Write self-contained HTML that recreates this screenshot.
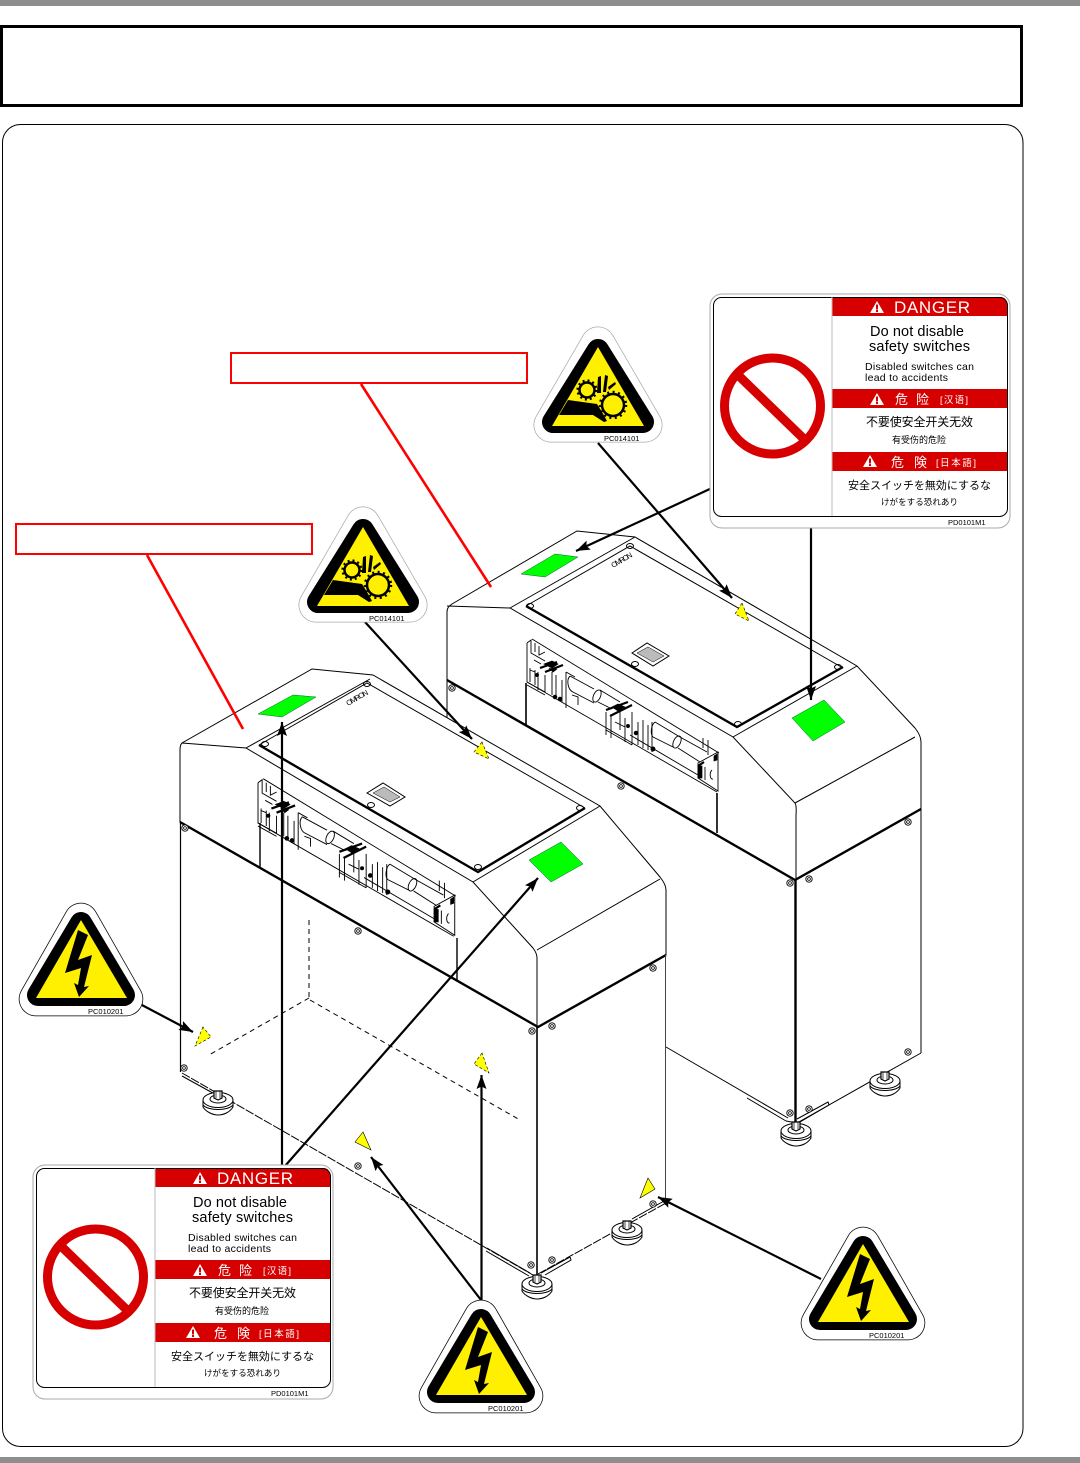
<!DOCTYPE html>
<html><head><meta charset="utf-8"><style>
html,body{margin:0;padding:0;background:#fff}
svg{display:block}
.en{font-family:"Liberation Sans",sans-serif}
.sc{font-family:"Liberation Sans","Noto Sans CJK SC",sans-serif}
.jp{font-family:"Liberation Sans","Noto Sans CJK JP",sans-serif}
.m{fill:none;stroke:#000;stroke-width:1}
.t{fill:none;stroke:#000;stroke-width:2.4}
.d{fill:none;stroke:#000;stroke-width:1;stroke-dasharray:5 4}
.p{fill:none;stroke:#000;stroke-width:1;stroke-dasharray:9 1.500}
.a{fill:none;stroke:#000;stroke-width:2.200;marker-end:url(#ah)}
.y{fill:#ff0;stroke:#000;stroke-width:.6}
.g{fill:#0f0;stroke:#063;stroke-width:.5}
</style></head><body>
<svg width="1080" height="1463" viewBox="0 0 1080 1463" xmlns="http://www.w3.org/2000/svg">
<defs>
<marker id="ah" markerUnits="userSpaceOnUse" markerWidth="16" markerHeight="10" refX="14" refY="5" orient="auto"><path d="M0 0L14 5L0 10L2.500 5Z" fill="#000"/></marker>
<g id="screw"><circle r="3.200" fill="#fff" stroke="#000" stroke-width=".9"/><circle r="1.400" fill="none" stroke="#000" stroke-width=".8"/></g>
<g id="foot"><path d="M-15 -3V4C-12 9 -5 12 0 12C6 12 12 9 15 4V-3" fill="#fff" stroke="#000"/><ellipse cy="-3" rx="15" ry="7.500" fill="#fff" stroke="#000"/><ellipse cy="-4" rx="8" ry="4" fill="#fff" stroke="#000"/><path d="M-4 -12H4V-5L0 -3L-4 -5Z" fill="#fff" stroke="#000" stroke-width="1.200"/><path d="M-2 -12V-5M2 -12V-5" stroke="#000" stroke-width=".7"/><path d="M-15 2C-10 8 10 8 15 2" fill="none" stroke="#000"/></g>
<g id="mech" fill="none" stroke="#000" stroke-width=".9">
<path d="M527 643V682L717 792M532 639L719 753M527 643L531 640V653L545 661M535 643V652M539 646V655L545 652M530 670L535 672M534 660L541 664"/>
<path d="M527 682L545 692M527 685L545 695M538 672V690M545 675V692M552 672V695M556 675V698M562 680V702M566 672V708M530 668V682M535 670V685"/>
<path d="M570 676C566 680 568 690 573 692M570 676L594 689M573 692L594 703M600 690L620 702M598 702L612 709M566 672L575 677M572 695L578 697V705"/>
<ellipse cx="597" cy="696" rx="3.500" ry="6.500" transform="rotate(25 597 696)"/>
<path d="M606 712V735M611 715V738M620 712V730M625 718V742M632 712V745M638 722V745M643 720V748M648 725V750M652 722V752M606 730L632 745M615 722L625 727"/>
<path d="M655 722L680 737M653 737L673 747M655 722C651 725 650 734 653 737M680 737L707 752M678 748L700 762M703 738V748M708 740V755M630 735L698 775"/>
<ellipse cx="677" cy="742" rx="3.500" ry="6.500" transform="rotate(25 677 742)"/>
<path d="M698 763L718 752V791L698 778ZM705 767V780M712 770C709 773 710 780 713 779M700 764V778"/>
<path d="M540 668L557 662M545 672L563 665M606 710L628 702M610 716L632 705M698 766L704 762" stroke-width="2.200"/>
<path d="M544 664L552 668L558 664L552 661ZM549 668L553 672L557 669M612 707L618 711L625 707L618 704ZM698 766H702V778H698ZM714 756L717 754V760L714 761Z" fill="#000" stroke-width=".7"/>
<circle cx="555" cy="697" r="1.800" fill="#000"/><circle cx="560" cy="699" r="1.800" fill="#000"/><circle cx="537" cy="675" r="1.500" fill="#000"/><circle cx="653" cy="749" r="2" fill="#000"/><circle cx="636" cy="733" r="1.800" fill="#000"/><circle cx="628" cy="726" r="1.500" fill="#000"/>
</g>
</defs>
<rect width="1080" height="1463" fill="#fff"/>
<rect x="0" y="0" width="1080" height="6" fill="#8e8e8e"/>
<rect x="0" y="1457" width="1080" height="6" fill="#8e8e8e"/>
<rect x="1.500" y="26.500" width="1020" height="79" fill="#fff" stroke="#000" stroke-width="3"/>
<rect x="2.500" y="124.500" width="1020.500" height="1322" rx="18" fill="#fff" stroke="#000" stroke-width="1"/>

<!-- REAR MACHINE -->
<g>
<path class="m" d="M447 680V612C447 608 449 606 452 604L577 531L635 537L857 666L915 728C919 733 921 737 921 742V809M447 606L510 608L733 737L795 803C797 806 796 812 796 816V880M795 803L915 737M733 737L857 666M510 608L635 537"/>
<path class="m" d="M526 606L630 546L843 668"/>
<path class="t" d="M526 606L737 727L843 667"/>
<path class="t" d="M447 680L795 880L921 809"/>
<path class="m" d="M447 680V720M921 809V1053"/>
<path d="M526 683V726M717 793V833" stroke="#000" stroke-width="1.600" fill="none"/>
<path d="M795.500 880V1122" stroke="#000" stroke-width="2.400" fill="none"/>
<path class="m" d="M666 1047L788 1118M747 1098L786 1121M786 1121L797 1123L921 1053M797 1119L828 1102L829 1105L800 1122"/>
<use href="#mech"/>
<path class="m" d="M632 653L647 643L669 656L653 666Z"/><path d="M637 653L648 647L664 656L653 662Z" fill="#bbb" stroke="#000" stroke-width=".5"/>
<ellipse cx="635" cy="664" rx="3.500" ry="2.500" class="m" fill="#fff"/>
<ellipse cx="530" cy="606" rx="3.500" ry="2.500" class="m"/><ellipse cx="630" cy="546" rx="3.500" ry="2.500" class="m"/><ellipse cx="838" cy="667" rx="3.500" ry="2.500" class="m"/><ellipse cx="738" cy="724" rx="3.500" ry="2.500" class="m"/>
<text class="en" transform="translate(613,568) rotate(-30)" font-size="7.500" textLength="23">OMRON</text>
<polygon class="g" points="521,574 555,554 578,557 545,577"/>
<polygon class="g" points="792,718 824,700 845,722 813,741"/>
<use href="#screw" x="452" y="688"/><use href="#screw" x="621" y="786"/><use href="#screw" x="790" y="883"/><use href="#screw" x="809" y="879"/><use href="#screw" x="908" y="822"/>
<use href="#screw" x="790" y="1113"/><use href="#screw" x="809" y="1109"/><use href="#screw" x="908" y="1052"/>
<use href="#foot" x="885" y="1084"/><use href="#foot" x="796" y="1134"/>
<polygon class="y" points="742,603 735,614 749,621" stroke-dasharray="3 2"/>
</g>

<!-- FRONT MACHINE -->
<g>
<path d="M179 752C179 748 180 745 182 743L312 669L373 675L600 806L660 877C664 882 666 886 666 890V1205L537 1277L182 1073L180 822Z" fill="#fff"/>
<path class="m" d="M180 822V752C180 748 180 745 182 743L312 669L373 675L600 806L660 877C664 882 666 886 666 890V955M182 743L246 748L473 882L533 948C536 952 537 955 537 958V1027M537 950L660 879M473 882L600 806M246 748L370 679"/>
<path class="m" d="M259 745L367 683L585 808"/>
<path class="t" d="M259 745L478 872L585 808"/>
<path class="t" d="M180 822L538 1027L666 955"/>
<path d="M260 823V868M457 938V980" stroke="#000" stroke-width="1.400" fill="none"/>
<use href="#mech" transform="translate(-284.800,120.500) scale(1.030)"/>
<path class="m" d="M367 793L383 783L405 797L390 806Z"/><path d="M373 793L384 787L400 797L390 802Z" fill="#bbb" stroke="#000" stroke-width=".5"/>
<ellipse cx="371" cy="805" rx="3.500" ry="2.500" class="m"/>
<ellipse cx="265" cy="744" rx="3.500" ry="2.500" class="m"/><ellipse cx="367" cy="684" rx="3.500" ry="2.500" class="m"/><ellipse cx="580" cy="808" rx="3.500" ry="2.500" class="m"/><ellipse cx="478" cy="867" rx="3.500" ry="2.500" class="m"/>
<text class="en" transform="translate(348,706) rotate(-30)" font-size="7.500" textLength="24">OMRON</text>
<polygon class="g" points="258,714 293,695 316,697 282,717"/>
<polygon class="g" points="529,860 561,842 583,864 551,882"/>
<path d="M180.500 822V1072" stroke="#000" stroke-width="1.200" fill="none"/>
<path d="M665.500 955V1205" stroke="#444" stroke-width="1" fill="none"/>
<path d="M537 1027V1275" stroke="#000" stroke-width="1.600" fill="none"/>
<path class="d" d="M309 920V998M309 998L209 1055M310 1000L520 1120"/>
<path class="p" d="M182 1073L533 1275M538 1274L666 1203"/>
<path class="m" d="M182 1076L220 1097M487 1248L530 1273M486 1251L529 1276M541 1273L570 1257M545 1275L571 1260L570 1257M632 1219L664 1201"/>
<use href="#screw" x="185" y="828"/><use href="#screw" x="358" y="931"/><use href="#screw" x="532" y="1031"/><use href="#screw" x="552" y="1026"/><use href="#screw" x="653" y="968"/>
<use href="#screw" x="184" y="1068"/><use href="#screw" x="358" y="1166"/><use href="#screw" x="531" y="1265"/><use href="#screw" x="552" y="1260"/><use href="#screw" x="653" y="1204"/>
<use href="#foot" x="218" y="1103"/><use href="#foot" x="537" y="1287"/><use href="#foot" x="627" y="1233"/>
<polygon class="y" points="482,742 474,752 489,759" stroke-dasharray="3 2"/>
<polygon class="y" points="203,1027 195,1046 211,1037" stroke-dasharray="3 2"/>
<polygon class="y" points="482,1053 474,1064 489,1073" stroke-dasharray="3 2"/>
<polygon class="y" points="363,1132 355,1142 371,1150"/>
<polygon class="y" points="648,1178 640,1198 655,1189"/>
</g>

<!-- RED CALLOUTS -->
<rect x="231" y="353" width="296" height="30" fill="#fff" stroke="#f00" stroke-width="2"/>
<rect x="16" y="524" width="296" height="30" fill="#fff" stroke="#f00" stroke-width="2"/>
<path d="M361 384L491 587M147 555L243 729" stroke="#f00" stroke-width="2.600" fill="none"/>

<!-- ARROWS -->
<path class="a" d="M712 488L576 551"/>
<path class="a" d="M598 443L732 598"/>
<path class="a" d="M811 525V700"/>
<path class="a" d="M365 622L472 739"/>
<path class="a" d="M282 1166V722"/>
<path class="a" d="M285 1166L538 878"/>
<path class="a" d="M140 1004L193 1032"/>
<path class="a" d="M481.500 1302V1075"/>
<path class="a" d="M481 1300L371 1157"/>
<path class="a" d="M821 1279L658 1197"/>

<!-- PINCH SIGNS -->
<g>
<polygon points="598,344 551,425 645,425" fill="#aaa" stroke="#aaa" stroke-width="35" stroke-linejoin="round"/>
<polygon points="598,344 551,425 645,425" fill="#fff" stroke="#fff" stroke-width="33.500" stroke-linejoin="round"/>
<polygon points="598,350 553,422 643,422" fill="#000" stroke="#000" stroke-width="22" stroke-linejoin="round"/>
<polygon points="598,347 552,426 644,426" fill="#fff000"/>
<circle cx="587" cy="390" r="7.500" fill="#fff000" stroke="#000" stroke-width="2.500"/><circle cx="587" cy="390" r="9.500" fill="none" stroke="#000" stroke-width="2.200" stroke-dasharray="2 3"/>
<circle cx="613" cy="405" r="11" fill="#fff000" stroke="#000" stroke-width="2.500"/><circle cx="613" cy="405" r="13" fill="none" stroke="#000" stroke-width="2.500" stroke-dasharray="2 3.500"/>
<path d="M559 415L568 400L597 404L602 412L607 421L604 422L593 415Z" fill="#000"/>
<path d="M597 393L598 377L601 376L601 393ZM603 392L605 375L608 376L606 392ZM608 387L615 382L616 384L609 390Z" fill="#000"/>
<text class="en" x="604" y="441" font-size="7.500">PC014101</text>
</g>
<g>
<polygon points="363,524 316,605 410,605" fill="#aaa" stroke="#aaa" stroke-width="35" stroke-linejoin="round"/>
<polygon points="363,524 316,605 410,605" fill="#fff" stroke="#fff" stroke-width="33.500" stroke-linejoin="round"/>
<polygon points="363,530 318,602 408,602" fill="#000" stroke="#000" stroke-width="22" stroke-linejoin="round"/>
<polygon points="363,527 317,606 409,606" fill="#fff000"/>
<circle cx="352" cy="570" r="7.500" fill="#fff000" stroke="#000" stroke-width="2.500"/><circle cx="352" cy="570" r="9.500" fill="none" stroke="#000" stroke-width="2.200" stroke-dasharray="2 3"/>
<circle cx="378" cy="585" r="11" fill="#fff000" stroke="#000" stroke-width="2.500"/><circle cx="378" cy="585" r="13" fill="none" stroke="#000" stroke-width="2.500" stroke-dasharray="2 3.500"/>
<path d="M324 595L333 580L362 584L367 592L372 601L369 602L358 595Z" fill="#000"/>
<path d="M362 573L363 557L366 556L366 573ZM368 572L370 555L373 556L371 572ZM373 567L380 562L381 564L374 570Z" fill="#000"/>
<text class="en" x="369" y="621" font-size="7.500">PC014101</text>
</g>

<!-- SHOCK SIGNS -->
<g>
<polygon points="81,920 36,999 126,999" fill="#000" stroke="#000" stroke-width="34.500" stroke-linejoin="round"/>
<polygon points="81,920 36,999 126,999" fill="#fff" stroke="#fff" stroke-width="33" stroke-linejoin="round"/>
<polygon points="81,923 38,995 124,995" fill="#000" stroke="#000" stroke-width="22" stroke-linejoin="round"/>
<polygon points="81,920 36,998 127,998" fill="#fff000"/>
<polygon points="78,930 88,935 78,960 92,955 84,987 89,986 79,997 74,983 78,985 81,968 65,973" fill="#000"/>
<text class="en" x="88" y="1014" font-size="7.500">PC010201</text>
</g>
<g transform="translate(782,324)">
<polygon points="81,920 36,999 126,999" fill="#000" stroke="#000" stroke-width="34.500" stroke-linejoin="round"/>
<polygon points="81,920 36,999 126,999" fill="#fff" stroke="#fff" stroke-width="33" stroke-linejoin="round"/>
<polygon points="81,923 38,995 124,995" fill="#000" stroke="#000" stroke-width="22" stroke-linejoin="round"/>
<polygon points="81,920 36,998 127,998" fill="#fff000"/>
<polygon points="78,930 88,935 78,960 92,955 84,987 89,986 79,997 74,983 78,985 81,968 65,973" fill="#000"/>
<text class="en" x="87" y="1014" font-size="7.500">PC010201</text>
</g>
<g transform="translate(400,397)">
<polygon points="81,920 36,999 126,999" fill="#000" stroke="#000" stroke-width="34.500" stroke-linejoin="round"/>
<polygon points="81,920 36,999 126,999" fill="#fff" stroke="#fff" stroke-width="33" stroke-linejoin="round"/>
<polygon points="81,923 38,995 124,995" fill="#000" stroke="#000" stroke-width="22" stroke-linejoin="round"/>
<polygon points="81,920 36,998 127,998" fill="#fff000"/>
<polygon points="78,930 88,935 78,960 92,955 84,987 89,986 79,997 74,983 78,985 81,968 65,973" fill="#000"/>
<text class="en" x="88" y="1014" font-size="7.500">PC010201</text>
</g>

<!-- DANGER LABEL 1 -->
<g>
<rect x="710" y="294" width="300" height="234" rx="12" fill="#fff" stroke="#aaa" stroke-width="1"/>
<path d="M832 297H1000Q1007 297 1007 305V316H832Z" fill="#d60000"/>
<rect x="832" y="389" width="175" height="19" fill="#d60000"/>
<rect x="832" y="452" width="175" height="19" fill="#d60000"/>
<rect x="713.500" y="297.500" width="294" height="219" rx="8" fill="none" stroke="#000" stroke-width="1"/>
<path d="M832 297V516" stroke="#bbb" stroke-width="1"/>
<circle cx="772.500" cy="406" r="48" fill="#fff" stroke="#d60000" stroke-width="9"/>
<path d="M739 376L806 441" stroke="#d60000" stroke-width="9"/>
<polygon points="877,301 870,313 884,313" fill="#fff"/><rect x="876" y="304.500" width="2" height="5" fill="#d60000"/><rect x="876" y="310" width="2" height="2" fill="#d60000"/>
<polygon points="877,393 870,405 884,405" fill="#fff"/><rect x="876" y="396.500" width="2" height="5" fill="#d60000"/><rect x="876" y="402" width="2" height="2" fill="#d60000"/>
<polygon points="870,455 863,467 877,467" fill="#fff"/><rect x="869" y="458.500" width="2" height="5" fill="#d60000"/><rect x="869" y="464" width="2" height="2" fill="#d60000"/>
<text class="en" x="894" y="313" font-size="17" fill="#fff" textLength="76">DANGER</text>
<text class="en" x="870" y="336" font-size="14.500" textLength="94">Do not disable</text>
<text class="en" x="869" y="351" font-size="14.500" textLength="101">safety switches</text>
<text class="en" x="865" y="370" font-size="10.500" textLength="109">Disabled switches can</text>
<text class="en" x="865" y="381" font-size="10.500" textLength="83">lead to accidents</text>
<text class="sc" x="895" y="404" font-size="13" fill="#fff">危</text>
<text class="sc" x="916" y="404" font-size="13" fill="#fff">险</text>
<text class="sc" x="940" y="403" font-size="9.500" fill="#fff" textLength="28">[汉语]</text>
<text class="sc" x="866" y="426" font-size="12" textLength="107">不要使安全开关无效</text>
<text class="sc" x="892" y="443" font-size="9" textLength="54">有受伤的危险</text>
<text class="jp" x="891" y="467" font-size="13" fill="#fff">危</text>
<text class="jp" x="914" y="467" font-size="13" fill="#fff">険</text>
<text class="jp" x="936" y="466" font-size="9.500" fill="#fff" textLength="40">[日本語]</text>
<text class="jp" x="848" y="489" font-size="11" textLength="143">安全スイッチを無効にするな</text>
<text class="jp" x="881" y="505" font-size="8.500" textLength="77">けがをする恐れあり</text>
<text class="en" x="948" y="525" font-size="7.500">PD0101M1</text>
</g>

<!-- DANGER LABEL 2 -->
<g transform="translate(-677,871)">
<rect x="710" y="294" width="300" height="234" rx="12" fill="#fff" stroke="#aaa" stroke-width="1"/>
<path d="M832 297H1000Q1007 297 1007 305V316H832Z" fill="#d60000"/>
<rect x="832" y="389" width="175" height="19" fill="#d60000"/>
<rect x="832" y="452" width="175" height="19" fill="#d60000"/>
<rect x="713.500" y="297.500" width="294" height="219" rx="8" fill="none" stroke="#000" stroke-width="1"/>
<path d="M832 297V516" stroke="#bbb" stroke-width="1"/>
<circle cx="772.500" cy="406" r="48" fill="#fff" stroke="#d60000" stroke-width="9"/>
<path d="M739 376L806 441" stroke="#d60000" stroke-width="9"/>
<polygon points="877,301 870,313 884,313" fill="#fff"/><rect x="876" y="304.500" width="2" height="5" fill="#d60000"/><rect x="876" y="310" width="2" height="2" fill="#d60000"/>
<polygon points="877,393 870,405 884,405" fill="#fff"/><rect x="876" y="396.500" width="2" height="5" fill="#d60000"/><rect x="876" y="402" width="2" height="2" fill="#d60000"/>
<polygon points="870,455 863,467 877,467" fill="#fff"/><rect x="869" y="458.500" width="2" height="5" fill="#d60000"/><rect x="869" y="464" width="2" height="2" fill="#d60000"/>
<text class="en" x="894" y="313" font-size="17" fill="#fff" textLength="76">DANGER</text>
<text class="en" x="870" y="336" font-size="14.500" textLength="94">Do not disable</text>
<text class="en" x="869" y="351" font-size="14.500" textLength="101">safety switches</text>
<text class="en" x="865" y="370" font-size="10.500" textLength="109">Disabled switches can</text>
<text class="en" x="865" y="381" font-size="10.500" textLength="83">lead to accidents</text>
<text class="sc" x="895" y="404" font-size="13" fill="#fff">危</text>
<text class="sc" x="916" y="404" font-size="13" fill="#fff">险</text>
<text class="sc" x="940" y="403" font-size="9.500" fill="#fff" textLength="28">[汉语]</text>
<text class="sc" x="866" y="426" font-size="12" textLength="107">不要使安全开关无效</text>
<text class="sc" x="892" y="443" font-size="9" textLength="54">有受伤的危险</text>
<text class="jp" x="891" y="467" font-size="13" fill="#fff">危</text>
<text class="jp" x="914" y="467" font-size="13" fill="#fff">険</text>
<text class="jp" x="936" y="466" font-size="9.500" fill="#fff" textLength="40">[日本語]</text>
<text class="jp" x="848" y="489" font-size="11" textLength="143">安全スイッチを無効にするな</text>
<text class="jp" x="881" y="505" font-size="8.500" textLength="77">けがをする恐れあり</text>
<text class="en" x="948" y="525" font-size="7.500">PD0101M1</text>
</g>
</svg>
</body></html>
